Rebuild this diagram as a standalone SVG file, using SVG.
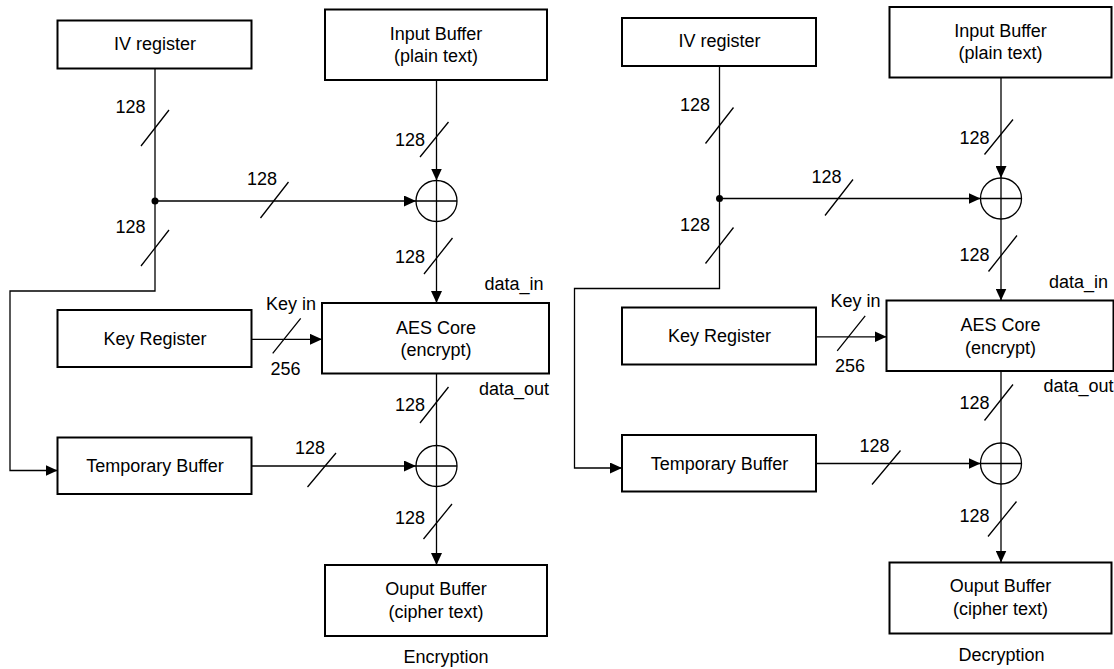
<svg xmlns="http://www.w3.org/2000/svg" width="1114" height="669" viewBox="0 0 1114 669">
<style>
.box{fill:#fff;stroke:#000;stroke-width:2}
.ln{fill:none;stroke:#000;stroke-width:1.3}
.arr{marker-end:url(#ah)}
text{font-family:"Liberation Sans",Arial,sans-serif;font-size:18px;fill:#000}
.c{text-anchor:middle}
.xor{fill:#fff;stroke:#000;stroke-width:1.3}
</style>
<defs>
<marker id="ah" viewBox="0 0 12 11" refX="12" refY="5.5" markerWidth="12" markerHeight="11" markerUnits="userSpaceOnUse" orient="auto"><path d="M0,0 L12,5.5 L0,11 z" fill="#000"/></marker>
</defs>
<rect width="1114" height="669" fill="#fff"/>

<g id="encryption">
<g id="enc-connectors">
<path class="ln arr" d="M155,69 V291 H10 V470.5 H57.5"/>
<circle cx="155" cy="201" r="3.5" fill="#000"/>
<path class="ln arr" d="M155,201 H416"/>
<path class="ln arr" d="M436.5,80 V180.5"/>
<path class="ln arr" d="M436.5,221.5 V303"/>
<path class="ln arr" d="M252,339.3 H322"/>
<path class="ln arr" d="M436.5,373.5 V565"/>
<path class="ln arr" d="M252,466 H416"/>
<path class="ln" d="M141,146 L169,110 M141,266 L169,230 M260.5,218 L288.5,182 M420,157 L448.5,122 M424,274 L452.5,238 M272.7,353.3 L300.7,318.3 M420,423 L448.5,387 M307.5,487 L336,453 M423.5,539 L452,504"/>
<text class="c" x="130.5" y="113">128</text>
<text class="c" x="130.5" y="233">128</text>
<text class="c" x="262" y="185">128</text>
<text class="c" x="410" y="146">128</text>
<text class="c" x="410" y="263">128</text>
<text class="c" x="410" y="411">128</text>
<text class="c" x="310" y="454">128</text>
<text class="c" x="410" y="524">128</text>
<text class="c" x="291" y="309.5">Key in</text>
<text class="c" x="285.5" y="374.5">256</text>
<text class="c" x="514" y="290">data_in</text>
<text class="c" x="514" y="394.5">data_out</text>
</g>
<g id="enc-iv"><rect class="box" x="57.5" y="20.5" width="194" height="48"/><text class="c" x="155" y="49.5">IV register</text></g>
<g id="enc-input"><rect class="box" x="325" y="9.5" width="222" height="70.5"/><text class="c" x="436" y="39.5">Input Buffer</text><text class="c" x="436" y="61.5">(plain text)</text></g>
<g id="enc-xor1"><circle class="xor" cx="436.5" cy="201" r="20.5"/><path class="ln" d="M416,201 H457 M436.5,180.5 V221.5"/></g>
<g id="enc-key"><rect class="box" x="57.5" y="310" width="194" height="57"/><text class="c" x="155" y="344.5">Key Register</text></g>
<g id="enc-aes"><rect class="box" x="322" y="303" width="227" height="70.5"/><text class="c" x="436" y="333.5">AES Core</text><text class="c" x="436" y="356">(encrypt)</text></g>
<g id="enc-temp"><rect class="box" x="57.5" y="437.5" width="194" height="56.5"/><text class="c" x="155" y="472">Temporary Buffer</text></g>
<g id="enc-xor2"><circle class="xor" cx="436.5" cy="466" r="20.5"/><path class="ln" d="M416,466 H457 M436.5,445.5 V486.5"/></g>
<g id="enc-output"><rect class="box" x="325" y="565" width="222" height="71"/><text class="c" x="436" y="594.5">Ouput Buffer</text><text class="c" x="436" y="617.5">(cipher text)</text></g>
<text class="c" x="446" y="663">Encryption</text>
</g>

<g id="decryption" transform="translate(564.5,-2.5)">
<g id="dec-connectors">
<path class="ln arr" d="M155,69 V291 H10 V470.5 H57.5"/>
<circle cx="155" cy="201" r="3.5" fill="#000"/>
<path class="ln arr" d="M155,201 H416"/>
<path class="ln arr" d="M436.5,80 V180.5"/>
<path class="ln arr" d="M436.5,221.5 V303"/>
<path class="ln arr" d="M252,339.3 H322"/>
<path class="ln arr" d="M436.5,373.5 V565"/>
<path class="ln arr" d="M252,466 H416"/>
<path class="ln" d="M141,146 L169,110 M141,266 L169,230 M260.5,218 L288.5,182 M420,157 L448.5,122 M424,274 L452.5,238 M272.7,353.3 L300.7,318.3 M420,423 L448.5,387 M307.5,487 L336,453 M423.5,539 L452,504"/>
<text class="c" x="130.5" y="113">128</text>
<text class="c" x="130.5" y="233">128</text>
<text class="c" x="262" y="185">128</text>
<text class="c" x="410" y="146">128</text>
<text class="c" x="410" y="263">128</text>
<text class="c" x="410" y="411">128</text>
<text class="c" x="310" y="454">128</text>
<text class="c" x="410" y="524">128</text>
<text class="c" x="291" y="309.5">Key in</text>
<text class="c" x="285.5" y="374.5">256</text>
<text class="c" x="514" y="290">data_in</text>
<text class="c" x="514" y="394.5">data_out</text>
</g>
<g id="dec-iv"><rect class="box" x="57.5" y="20.5" width="194" height="48"/><text class="c" x="155" y="49.5">IV register</text></g>
<g id="dec-input"><rect class="box" x="325" y="9.5" width="222" height="70.5"/><text class="c" x="436" y="39.5">Input Buffer</text><text class="c" x="436" y="61.5">(plain text)</text></g>
<g id="dec-xor1"><circle class="xor" cx="436.5" cy="201" r="20.5"/><path class="ln" d="M416,201 H457 M436.5,180.5 V221.5"/></g>
<g id="dec-key"><rect class="box" x="57.5" y="310" width="194" height="57"/><text class="c" x="155" y="344.5">Key Register</text></g>
<g id="dec-aes"><rect class="box" x="322" y="303" width="227" height="70.5"/><text class="c" x="436" y="333.5">AES Core</text><text class="c" x="436" y="356">(encrypt)</text></g>
<g id="dec-temp"><rect class="box" x="57.5" y="437.5" width="194" height="56.5"/><text class="c" x="155" y="472">Temporary Buffer</text></g>
<g id="dec-xor2"><circle class="xor" cx="436.5" cy="466" r="20.5"/><path class="ln" d="M416,466 H457 M436.5,445.5 V486.5"/></g>
<g id="dec-output"><rect class="box" x="325" y="565" width="222" height="71"/><text class="c" x="436" y="594.5">Ouput Buffer</text><text class="c" x="436" y="617.5">(cipher text)</text></g>
<text class="c" x="437" y="663">Decryption</text>
</g>
</svg>
